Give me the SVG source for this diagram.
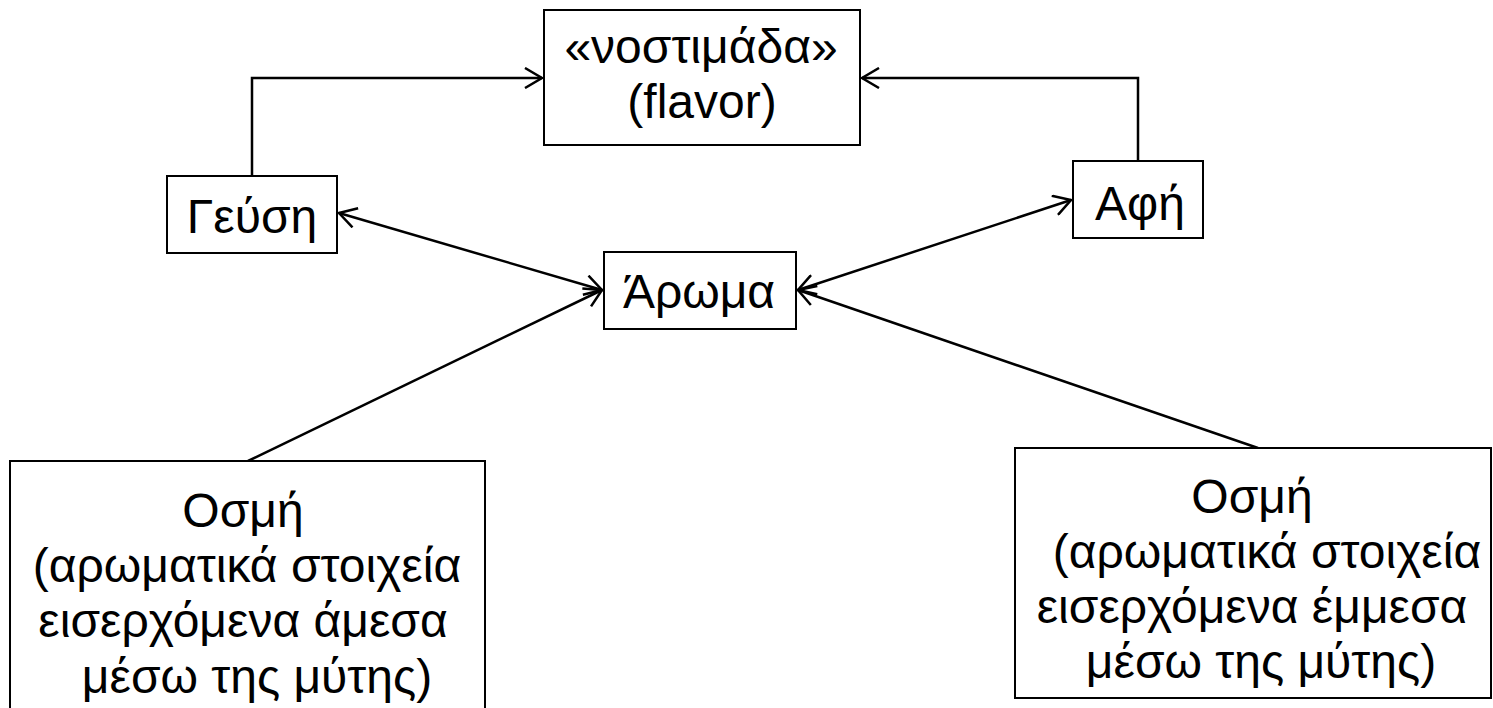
<svg xmlns="http://www.w3.org/2000/svg" width="1493" height="708" viewBox="0 0 1493 708">
<style>
.box{fill:#fff;stroke:#000;stroke-width:2}
.t{font-family:"Liberation Sans",Arial,sans-serif;font-size:48px;fill:#000;text-anchor:middle}
.c{fill:none;stroke:#000;stroke-width:2.5}
</style>
<defs>
<marker id="ah" viewBox="-1 -1 20 22" refX="17" refY="10" markerWidth="20" markerHeight="22" markerUnits="userSpaceOnUse" orient="auto-start-reverse">
<path d="M0,0 L17,10 L0,20" fill="none" stroke="#000" stroke-width="2.5"/>
</marker>
</defs>
<rect width="1493" height="708" fill="#fff"/>
<g id="connectors">
<path class="c" d="M252,176 V78 H542" marker-end="url(#ah)"/>
<path class="c" d="M1138,161 V78 H862" marker-end="url(#ah)"/>
<path class="c" d="M339,213 L602,290" marker-start="url(#ah)" marker-end="url(#ah)"/>
<path class="c" d="M1071,200 L798,290" marker-start="url(#ah)" marker-end="url(#ah)"/>
<path class="c" d="M248,461 L602,290" marker-end="url(#ah)"/>
<path class="c" d="M1258,448 L798,290" marker-end="url(#ah)"/>
</g>
<g id="flavor">
<rect class="box" x="544" y="10" width="316" height="135"/>
<text class="t" x="701" y="63">«νοστιμάδα»</text>
<text class="t" x="702" y="118">(flavor)</text>
</g>
<g id="geusi">
<rect class="box" x="167" y="176" width="170" height="77"/>
<text class="t" x="252" y="233">Γεύση</text>
</g>
<g id="afi">
<rect class="box" x="1073" y="161" width="130" height="77"/>
<text class="t" x="1140" y="220">Αφή</text>
</g>
<g id="aroma">
<rect class="box" x="604" y="252" width="192" height="77"/>
<text class="t" x="699" y="308">Άρωμα</text>
</g>
<g id="osmi-amesa">
<rect class="box" x="10" y="461" width="475" height="260"/>
<text class="t" x="243" y="527">Οσμή</text>
<text class="t" x="247" y="582">(αρωματικά στοιχεία</text>
<text class="t" x="243" y="637">εισερχόμενα άμεσα</text>
<text class="t" x="257" y="693">μέσω της μύτης)</text>
</g>
<g id="osmi-emmesa">
<rect class="box" x="1015" y="448" width="476" height="250"/>
<text class="t" x="1252" y="513">Οσμή</text>
<text class="t" x="1267" y="568">(αρωματικά στοιχεία</text>
<text class="t" x="1252" y="623">εισερχόμενα έμμεσα</text>
<text class="t" x="1261" y="678">μέσω της μύτης)</text>
</g>
</svg>
